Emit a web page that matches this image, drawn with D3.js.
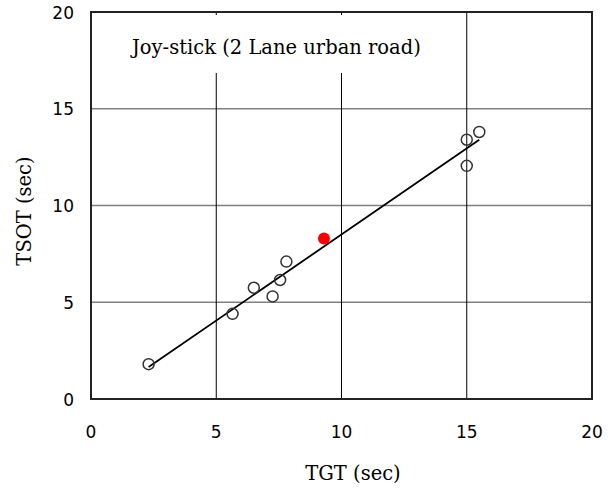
<!DOCTYPE html>
<html>
<head>
<meta charset="utf-8">
<script src="https://cdn.jsdelivr.net/npm/d3@7"></script>
<style>
  body { margin: 0; background: #fff; }
</style>
</head>
<body>
<svg id="chart"></svg>
<script>
// data
const tgt  = [2.3, 5.65, 6.5, 7.25, 7.55, 7.8, 15.0, 15.0, 15.5];
const tsot = [1.8, 4.4, 5.75, 5.3, 6.15, 7.1, 13.4, 12.05, 13.8];
const redTgt = [9.3];
const redTsot = [8.3];
const fitX = [2.3, 15.5];
const fitY = [1.65, 13.4];
const xTicks = [0, 5, 10, 15, 20];
const yTicks = [0, 5, 10, 15, 20];
const title = "Joy-stick (2 Lane urban road)";

const width = 615, height = 491;
const margin = { left: 91, right: 23, top: 12, bottom: 92 };

const svg = d3.select("#chart").attr("width", width).attr("height", height);

const x = d3.scaleLinear().domain([0, 20]).range([margin.left, width - margin.right]);
const y = d3.scaleLinear().domain([0, 20]).range([height - margin.bottom, margin.top]);

const serif = "'DejaVu Serif', 'Liberation Serif', serif";
const sans = "'DejaVu Sans', 'Liberation Sans', sans-serif";

// horizontal grid (grey)
svg.append("g")
    .selectAll("line")
    .data(yTicks.slice(1, -1))
    .enter()
    .append("line")
    .attr("x1", x(0)).attr("x2", x(20))
    .attr("y1", function (d) { return y(d); })
    .attr("y2", function (d) { return y(d); })
    .attr("stroke", "#808080")
    .attr("stroke-width", 1.5);

// vertical grid (black)
svg.append("g")
    .selectAll("line")
    .data(xTicks.slice(1, -1))
    .enter()
    .append("line")
    .attr("x1", function (d) { return x(d); })
    .attr("x2", function (d) { return x(d); })
    .attr("y1", y(0)).attr("y2", y(20))
    .attr("stroke", "#000")
    .attr("stroke-width", 1);

// title box covers the grid
svg.append("rect")
    .attr("x", 118).attr("y", y(20) + 3)
    .attr("width", 330).attr("height", 58)
    .attr("fill", "#fff");

svg.append("text")
    .attr("x", 132).attr("y", 54)
    .text(title)
    .style("font-family", serif)
    .style("font-size", "19.5px")
    .style("fill", "#000");

// frame
svg.append("rect")
    .attr("x", x(0)).attr("y", y(20))
    .attr("width", x(20) - x(0)).attr("height", y(0) - y(20))
    .attr("fill", "none")
    .attr("stroke", "#222")
    .attr("stroke-width", 2);

// tick labels
svg.append("g")
    .selectAll("text")
    .data(xTicks)
    .enter()
    .append("text")
    .attr("x", function (d) { return x(d); })
    .attr("y", 438)
    .attr("text-anchor", "middle")
    .text(function (d) { return d; })
    .style("font-family", sans)
    .style("font-size", "17px");

svg.append("g")
    .selectAll("text")
    .data(yTicks)
    .enter()
    .append("text")
    .attr("x", 74)
    .attr("y", function (d) { return y(d) + 6.5; })
    .attr("text-anchor", "end")
    .text(function (d) { return d; })
    .style("font-family", sans)
    .style("font-size", "17px");

// axis titles
svg.append("text")
    .attr("x", 353)
    .attr("y", 480)
    .attr("text-anchor", "middle")
    .text("TGT (sec)")
    .style("font-family", serif)
    .style("font-size", "19.5px");

svg.append("text")
    .attr("transform", "translate(31,211) rotate(-90)")
    .attr("text-anchor", "middle")
    .text("TSOT (sec)")
    .style("font-family", serif)
    .style("font-size", "19.5px");

// fit line
svg.append("line")
    .attr("x1", x(fitX[0])).attr("y1", y(fitY[0]))
    .attr("x2", x(fitX[1])).attr("y2", y(fitY[1]))
    .attr("stroke", "#000")
    .attr("stroke-width", 1.8);

// open points
svg.append("g")
    .selectAll("circle")
    .data(d3.range(tgt.length))
    .enter()
    .append("circle")
    .attr("cx", function (i) { return x(tgt[i]); })
    .attr("cy", function (i) { return y(tsot[i]); })
    .attr("r", 5.5)
    .attr("fill", "none")
    .attr("stroke", "#333")
    .attr("stroke-width", 1.5);

// red point
svg.append("g")
    .selectAll("circle")
    .data(d3.range(redTgt.length))
    .enter()
    .append("circle")
    .attr("cx", function (i) { return x(redTgt[i]); })
    .attr("cy", function (i) { return y(redTsot[i]); })
    .attr("r", 6)
    .attr("fill", "#f00");
</script>
</body>
</html>
